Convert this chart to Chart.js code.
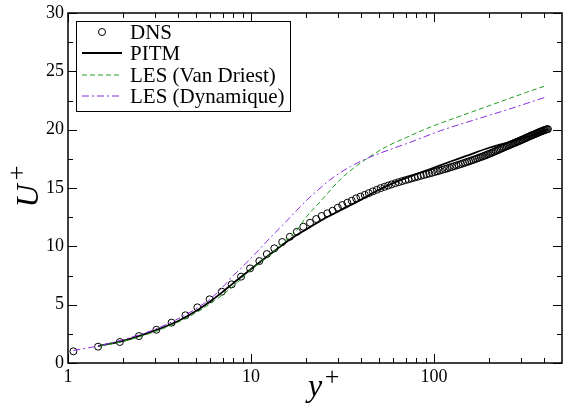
<!DOCTYPE html>
<html>
<head>
<meta charset="utf-8">
<script src="https://cdn.jsdelivr.net/npm/chart.js@4.4.0/dist/chart.umd.min.js"></script>
<style>
html, body { margin: 0; padding: 0; background: #fff; }
#wrap { width: 570px; height: 407px; }
.preload { position: absolute; left: -999px; top: 0; font-family: "Liberation Serif"; }
</style>
</head>
<body>
<span class="preload">DNS <i>U y</i> 0123456789</span>
<div id="wrap"><canvas id="profile-chart"></canvas></div>
<script>
// DNS (circles)
const dnsY = [1.07, 1.46, 1.92, 2.44, 3.04, 3.68, 4.38, 5.09, 5.94, 6.92, 7.84, 8.82, 9.88, 11.1, 12.2, 13.4, 14.8, 16.3, 17.8, 19.3,
    21.0, 22.7, 24.3, 26.1, 27.9, 29.8, 31.5, 33.6, 35.5, 37.5, 39.6, 41.8, 44.0, 46.3, 48.7, 51.1, 53.6, 56.1, 58.7, 61.4,
    64.1, 66.9, 69.7, 72.6, 75.5, 78.5, 81.5, 84.6, 87.7, 90.9, 94.1, 97.4, 100.7, 104.0, 107.4, 110.9, 114.4, 117.9, 121.5, 125.1,
    128.8, 132.5, 136.2, 140.0, 143.8, 147.7, 151.6, 155.5, 159.5, 163.5, 167.5, 171.6, 175.7, 179.8, 184.0, 188.2, 192.4, 196.6, 200.9, 205.2,
    209.5, 213.8, 218.2, 222.6, 227.0, 231.4, 235.8, 240.3, 244.7, 249.2, 253.7, 258.2, 262.7, 267.2, 271.8, 276.3, 280.8, 285.4, 290.0, 294.5,
    299.1, 303.7, 309, 314, 319, 324, 329, 334, 339, 344, 349, 354, 359, 364, 369, 374, 379, 384, 389, 394,
    399, 404, 409, 414, 419];
const dnsU = [1.00, 1.40, 1.80, 2.31, 2.85, 3.46, 4.09, 4.77, 5.46, 6.11, 6.74, 7.40, 8.11, 8.74, 9.34, 9.83, 10.37, 10.82, 11.25, 11.68,
    12.02, 12.34, 12.60, 12.83, 13.05, 13.31, 13.54, 13.74, 13.91, 14.11, 14.26, 14.41, 14.56, 14.71, 14.85, 14.99, 15.10, 15.21, 15.31, 15.41,
    15.50, 15.59, 15.67, 15.75, 15.83, 15.90, 15.97, 16.04, 16.11, 16.18, 16.24, 16.30, 16.37, 16.43, 16.49, 16.56, 16.62, 16.68, 16.75, 16.81,
    16.87, 16.93, 16.99, 17.05, 17.11, 17.17, 17.23, 17.29, 17.35, 17.41, 17.47, 17.53, 17.59, 17.65, 17.70, 17.76, 17.82, 17.88, 17.94, 18.00,
    18.06, 18.12, 18.18, 18.24, 18.30, 18.36, 18.42, 18.47, 18.53, 18.58, 18.63, 18.68, 18.73, 18.78, 18.83, 18.88, 18.92, 18.97, 19.01, 19.06,
    19.10, 19.15, 19.20, 19.25, 19.30, 19.35, 19.40, 19.44, 19.49, 19.53, 19.57, 19.61, 19.65, 19.69, 19.73, 19.77, 19.81, 19.85, 19.88, 19.92,
    19.95, 19.98, 20.01, 20.03, 20.05];

// PITM (solid black)
const pitmY = [1.46, 2, 3, 4, 5, 6, 7, 8, 10, 13.3, 16, 20, 25, 30, 40, 50, 65, 87, 100, 122, 150, 200, 283, 350, 419];
const pitmU = [1.45, 1.9, 2.8, 3.6, 4.45, 5.3, 6.1, 6.85, 8.05, 9.55, 10.5, 11.45, 12.35, 13.0, 14.0, 14.85, 15.65, 16.4, 16.75, 17.25, 17.75, 18.45, 19.1, 19.55, 20.05];

// LES (Van Driest) (green dashed)
const vdY = [1.5, 2, 3, 4, 5, 6, 7, 8, 10, 11.2, 13.2, 15, 17.8, 20, 23.8, 30.6, 37, 44.7, 55, 71, 85, 108, 130, 163, 200, 250, 320, 405];
const vdU = [1.45, 1.85, 2.7, 3.5, 4.3, 5.1, 5.85, 6.6, 8.0, 8.6, 9.5, 10.3, 11.4, 12.5, 13.8, 15.7, 16.8, 17.7, 18.55, 19.35, 19.9, 20.55, 21.0, 21.55, 22.05, 22.6, 23.2, 23.75];

// LES (Dynamique) (violet dash-dot)
const dynY = [1.07, 1.5, 2, 3, 4, 5, 6, 7, 8, 9, 10, 11.2, 13.2, 15.5, 17.8, 20.2, 23.5, 27, 35, 44.7, 57.5, 75, 108, 163, 250, 400];
const dynU = [1.07, 1.5, 2.0, 2.9, 3.8, 4.65, 5.5, 6.5, 7.5, 8.25, 9.0, 9.8, 11.0, 12.1, 13.1, 13.97, 14.9, 15.7, 16.85, 17.65, 18.3, 18.95, 19.9, 20.8, 21.7, 22.75];

const xMajor = [1, 10, 100];
const xMinor = [2, 3, 4, 5, 6, 7, 8, 9, 20, 30, 40, 50, 60, 70, 80, 90, 200, 300, 400];
const yMajor = [0, 5, 10, 15, 20, 25, 30];
const yMinor = [2.5, 7.5, 12.5, 17.5, 22.5, 27.5];

const toPoints = (xs, ys) => xs.map((x, i) => ({ x: x, y: ys[i] }));

const serif = '"Liberation Serif", "Times New Roman", serif';
const green = '#1f9e1f';
const violet = '#8a2be2';

// axes, ticks, titles and legend drawn on top of the plot
const framePlugin = {
    id: 'frame',
    afterDraw(chart) {
        const c = chart.ctx;
        const a = chart.chartArea;
        const xs = chart.scales.x;
        const ys = chart.scales.y;
        c.save();
        c.strokeStyle = '#000';
        c.lineWidth = 1.5;
        c.strokeRect(a.left, a.top, a.right - a.left, a.bottom - a.top);

        c.lineWidth = 1;
        c.beginPath();
        const tickX = (v, len) => {
            const px = Math.round(xs.getPixelForValue(v)) + 0.5;
            c.moveTo(px, a.bottom); c.lineTo(px, a.bottom - len);
            c.moveTo(px, a.top); c.lineTo(px, a.top + len);
        };
        const tickY = (v, len) => {
            const py = Math.round(ys.getPixelForValue(v)) + 0.5;
            c.moveTo(a.left, py); c.lineTo(a.left + len, py);
            c.moveTo(a.right, py); c.lineTo(a.right - len, py);
        };
        xMajor.forEach(v => tickX(v, 9));
        xMinor.forEach(v => tickX(v, 5));
        yMajor.forEach(v => tickY(v, 9));
        yMinor.forEach(v => tickY(v, 5));
        c.stroke();

        c.fillStyle = '#000';
        c.font = '18px ' + serif;
        c.textAlign = 'center';
        c.textBaseline = 'top';
        xMajor.forEach(v => c.fillText(String(v), xs.getPixelForValue(v), a.bottom + 5));
        c.textAlign = 'right';
        c.textBaseline = 'middle';
        yMajor.forEach(v => c.fillText(String(v), a.left - 4, ys.getPixelForValue(v)));

        // axis titles
        c.font = 'italic 32px ' + serif;
        c.textAlign = 'center';
        c.textBaseline = 'alphabetic';
        const cx = (a.left + a.right) / 2;
        c.fillText('y', cx, 396);
        c.font = '26px ' + serif;
        c.fillText('+', cx + 17, 385);

        c.save();
        c.translate(38, (a.top + a.bottom) / 2 + 8);
        c.rotate(-Math.PI / 2);
        c.font = 'italic 32px ' + serif;
        c.fillText('U', 0, 0);
        c.font = '26px ' + serif;
        c.fillText('+', 23, -13);
        c.restore();

        // legend
        const lx = 76.5, ly = 21.5, lw = 214, lh = 90;
        c.fillStyle = '#fff';
        c.fillRect(lx, ly, lw, lh);
        c.strokeStyle = '#000';
        c.lineWidth = 1;
        c.strokeRect(lx, ly, lw, lh);
        const rows = [32, 53, 75, 96];
        chart.data.datasets.forEach((ds, i) => {
            const ry = rows[i];
            c.save();
            c.strokeStyle = ds.borderColor;
            c.lineWidth = ds.borderWidth;
            if (ds.showLine === false) {
                c.beginPath();
                c.arc(102, ry, 3.5, 0, Math.PI * 2);
                c.stroke();
            } else {
                c.setLineDash(ds.borderDash || []);
                c.beginPath();
                c.moveTo(82, ry); c.lineTo(122, ry);
                c.stroke();
            }
            c.restore();
            c.fillStyle = '#000';
            c.font = '21px ' + serif;
            c.textAlign = 'left';
            c.textBaseline = 'middle';
            c.fillText(ds.label, 130, ry + 1);
        });
        c.restore();
    }
};

const ctx = document.getElementById('profile-chart').getContext('2d');
const profileChart = new Chart(ctx, {
    type: 'scatter',
    data: {
        datasets: [
            {
                label: 'DNS',
                data: toPoints(dnsY, dnsU),
                showLine: false,
                pointStyle: 'circle',
                pointRadius: 3.5,
                borderColor: '#000',
                backgroundColor: 'rgba(0,0,0,0)',
                borderWidth: 1,
                order: 4
            },
            {
                label: 'PITM',
                data: toPoints(pitmY, pitmU),
                showLine: true,
                borderColor: '#000',
                borderWidth: 1.8,
                pointRadius: 0,
                cubicInterpolationMode: 'monotone',
                order: 3
            },
            {
                label: 'LES (Van Driest)',
                data: toPoints(vdY, vdU),
                showLine: true,
                borderColor: green,
                borderWidth: 1,
                borderDash: [5, 3],
                pointRadius: 0,
                cubicInterpolationMode: 'monotone',
                order: 2
            },
            {
                label: 'LES (Dynamique)',
                data: toPoints(dynY, dynU),
                showLine: true,
                borderColor: violet,
                borderWidth: 1,
                borderDash: [7, 3, 2, 3],
                pointRadius: 0,
                cubicInterpolationMode: 'monotone',
                order: 1
            }
        ]
    },
    options: {
        responsive: true,
        maintainAspectRatio: false,
        animation: false,
        layout: { padding: { left: 68, right: 8, top: 13, bottom: 44 } },
        scales: {
            x: { type: 'logarithmic', min: 1, max: 500, display: false },
            y: { type: 'linear', min: 0, max: 30, display: false }
        },
        plugins: {
            legend: { display: false },
            tooltip: { enabled: false }
        }
    },
    plugins: [framePlugin]
});

// redraw once the serif face is ready
if (document.fonts) {
    document.fonts.load('18px "Liberation Serif"').then(() => profileChart.draw());
    document.fonts.load('italic 32px "Liberation Serif"').then(() => profileChart.draw());
}
</script>
</body>
</html>
